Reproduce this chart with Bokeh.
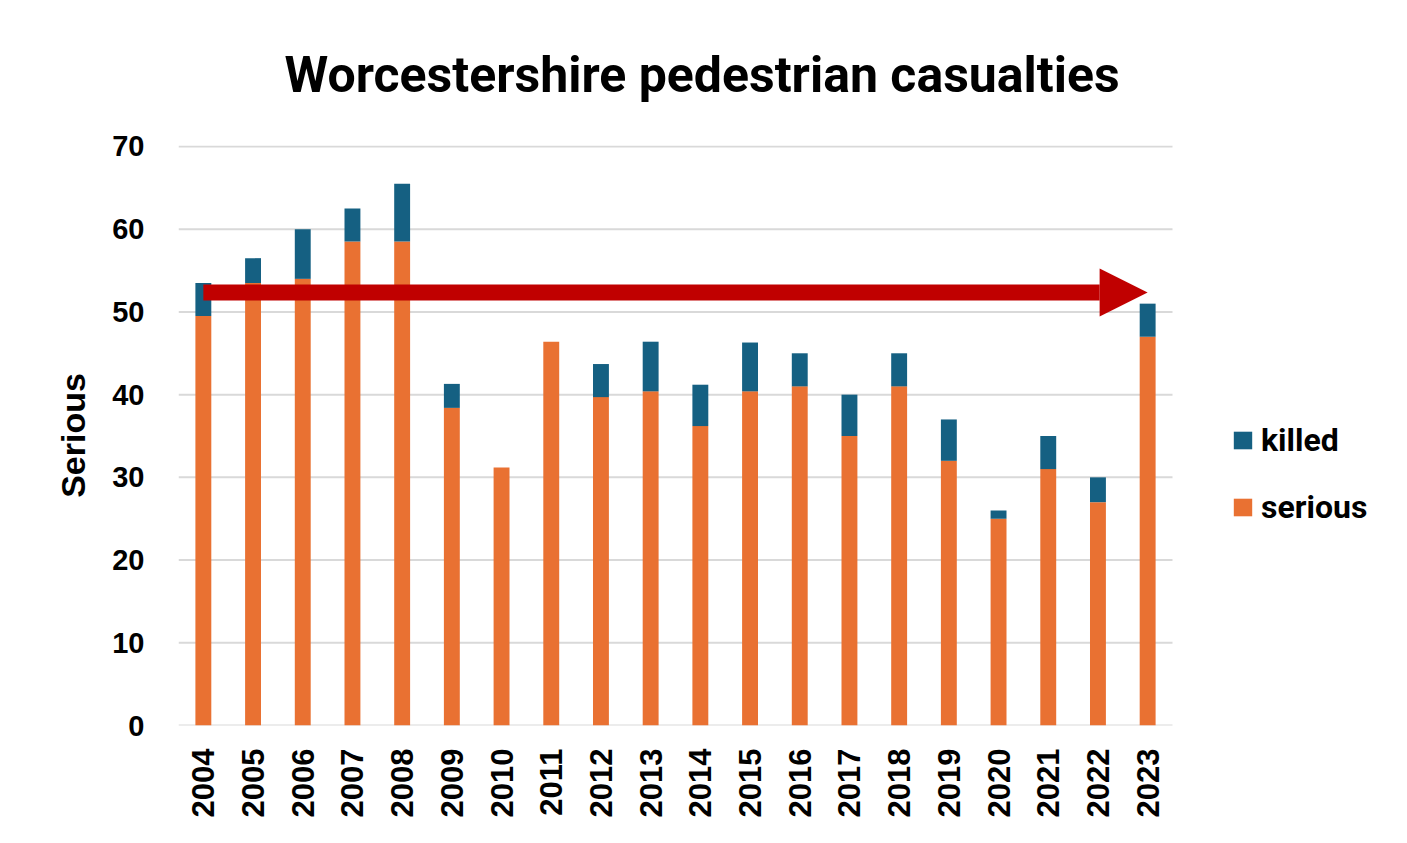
from bokeh.plotting import figure
from bokeh.models import (ColumnDataSource, FixedTicker, Range1d, Legend, LegendItem,
                          Arrow, NormalHead)
from bokeh.embed import file_html
from bokeh.resources import INLINE

years = list(range(2004, 2024))
serious = [49.5, 53.5, 54, 58.5, 58.5, 38.4, 31.2, 46.4, 39.7, 40.4,
           36.2, 40.4, 41, 35, 41, 32, 25, 31, 27, 47]
killed = [4, 3, 6, 4, 7, 2.9, 0, 0, 4, 6,
          5, 5.9, 4, 5, 4, 5, 1, 4, 3, 4]
y_ticks = [0, 10, 20, 30, 40, 50, 60, 70]
arrow_level = 52.35
title_text = "Worcestershire pedestrian casualties"

ORANGE = "#E97132"
BLUE = "#156082"
RED = "#C00000"

W, H = 1407, 843
FL, FR, FT, FB = 178, 1172, 145, 725          # plot-area box in pixels
px_per_year = (FR - FL) / 20.0
x0, x1 = years[0] - 0.5, years[-1] + 0.5
x_end = x1 + (W - FR) / px_per_year             # extra room on the right for the legend

src = ColumnDataSource(dict(year=years, serious=serious, killed=killed))

p = figure(width=W, height=H, output_backend="svg", toolbar_location=None,
           x_range=Range1d(x0, x_end), y_range=Range1d(0, 70.12),
           min_border_left=FL, min_border_right=0, min_border_top=FT,
           min_border_bottom=H - FB)
p.outline_line_color = None
p.background_fill_color = "white"
p.border_fill_color = "white"

p.title.text = title_text
p.title.text_font = "Roboto"
p.title.text_font_style = "bold"
p.title.text_font_size = "50px"
p.title.text_color = "black"
p.title.align = "left"
p.title.offset = 106
p.title.standoff = 84

# gridlines limited to the bar area
p.xgrid.grid_line_color = None
p.ygrid.grid_line_color = None
gsrc = ColumnDataSource(dict(y=y_ticks, xa=[x0] * len(y_ticks), xb=[x1] * len(y_ticks)))
p.segment(x0="xa", y0="y", x1="xb", y1="y", source=gsrc, line_color="#D9D9D9", line_width=2)

rs = p.vbar_stack(["serious", "killed"], x="year", width=0.32, source=src,
                  color=[ORANGE, BLUE], line_color=None)

# axes
p.xaxis.ticker = FixedTicker(ticks=years)
p.xaxis.major_label_orientation = 1.5707963
p.xaxis.axis_line_color = None
p.xaxis.major_tick_line_color = None
p.xaxis.minor_tick_line_color = None
p.xaxis.major_label_standoff = 17
p.xaxis.major_label_text_font = "Liberation Sans"
p.xaxis.major_label_text_font_style = "bold"
p.xaxis.major_label_text_font_size = "31px"
p.xaxis.major_label_text_color = "black"

p.yaxis.ticker = FixedTicker(ticks=y_ticks)
p.yaxis.axis_line_color = None
p.yaxis.major_tick_line_color = None
p.yaxis.minor_tick_line_color = None
p.yaxis.major_label_standoff = 28
p.yaxis.major_label_text_font = "Liberation Sans"
p.yaxis.major_label_text_font_style = "bold"
p.yaxis.major_label_text_font_size = "29px"
p.yaxis.major_label_text_color = "black"
p.yaxis.axis_label = "Serious"
p.yaxis.axis_label_text_font = "Liberation Sans"
p.yaxis.axis_label_text_font_style = "bold"
p.yaxis.axis_label_text_font_size = "34px"
p.yaxis.axis_label_text_color = "black"
p.yaxis.axis_label_standoff = 17

# arrow
p.add_layout(Arrow(x_start=years[0], y_start=arrow_level, x_end=years[-1], y_end=arrow_level,
                   line_color=RED, line_width=16,
                   end=NormalHead(size=48, fill_color=RED, line_color=RED, line_width=0)))

legend = Legend(items=[LegendItem(label="killed", renderers=[rs[1]]),
                       LegendItem(label="serious", renderers=[rs[0]])],
                location=(1231 - FL, 199), orientation="vertical",
                glyph_width=23, glyph_height=22, label_height=20, spacing=29,
                label_standoff=7, padding=0, margin=0,
                border_line_color=None, background_fill_alpha=0,
                label_text_font="Roboto", label_text_font_style="bold",
                label_text_font_size="32px", label_text_color="black")
p.add_layout(legend, "center")

open("out.html", "w").write(file_html(p, INLINE))
